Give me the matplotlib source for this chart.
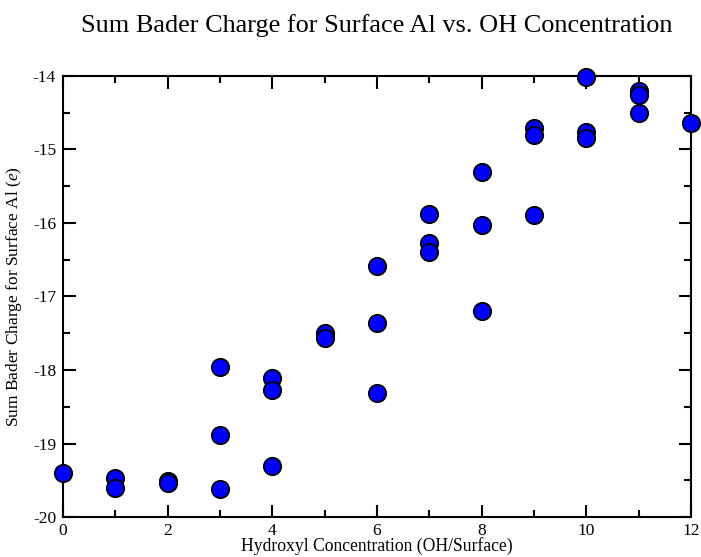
#!/usr/bin/python3
import matplotlib
matplotlib.use("Agg")
import matplotlib.pyplot as plt
from matplotlib.ticker import MultipleLocator

# hydroxyl count per surface and summed Bader charge of the surface Al atoms
oh_count = [0, 1, 1, 2, 2, 3, 3, 3, 4, 4, 4, 5, 5, 6, 6, 6,
            7, 7, 7, 8, 8, 8, 9, 9, 9, 10, 10, 10, 11, 11, 11, 12]
bader_sum = [-19.40, -19.47, -19.61, -19.51, -19.54,
             -17.96, -18.89, -19.62,
             -18.11, -18.27, -19.31,
             -17.49, -17.57,
             -16.58, -17.36, -18.31,
             -15.88, -16.27, -16.39,
             -15.30, -16.03, -17.20,
             -14.71, -14.80, -15.89,
             -14.01, -14.76, -14.85,
             -14.21, -14.26, -14.51,
             -14.64]

plt.rcParams["font.family"] = ["Liberation Serif", "DejaVu Serif"]
plt.rcParams["axes.unicode_minus"] = False
plt.rcParams["mathtext.fontset"] = "custom"
plt.rcParams["mathtext.rm"] = "Liberation Serif"
plt.rcParams["mathtext.it"] = "Liberation Serif:italic"

fig = plt.figure(figsize=(7.01, 5.57), dpi=100)
ax = fig.add_axes([0.0899, 0.0718, 0.8958, 0.7918])

ax.plot(oh_count, bader_sum, linestyle="none", marker="o", markersize=12.5,
        markerfacecolor="#0000ff", markeredgecolor="black",
        markeredgewidth=1.3, clip_on=False, zorder=3)

ax.set_xlim(0, 12)
ax.set_ylim(-20, -14)
ax.xaxis.set_major_locator(MultipleLocator(2))
ax.xaxis.set_minor_locator(MultipleLocator(1))
ax.yaxis.set_major_locator(MultipleLocator(1))
ax.yaxis.set_minor_locator(MultipleLocator(0.5))
ax.tick_params(which="both", direction="in", top=True, right=True,
               width=1.5, labelsize=12.5, colors="black")
ax.tick_params(which="major", length=9, pad=5)
ax.tick_params(which="minor", length=5)
ax.tick_params(axis="x", pad=4)
for side in ax.spines.values():
    side.set_linewidth(1.5)

ax.set_title("Sum Bader Charge for Surface Al vs. OH Concentration",
             fontsize=18.9, pad=32)
ax.set_xlabel("Hydroxyl Concentration (OH/Surface)", fontsize=12.7, labelpad=-1)
ax.set_ylabel(r"Sum Bader Charge for Surface Al ($\mathit{e}$)", fontsize=12.5,
              labelpad=6)

fig.savefig("out.png", dpi=100)
